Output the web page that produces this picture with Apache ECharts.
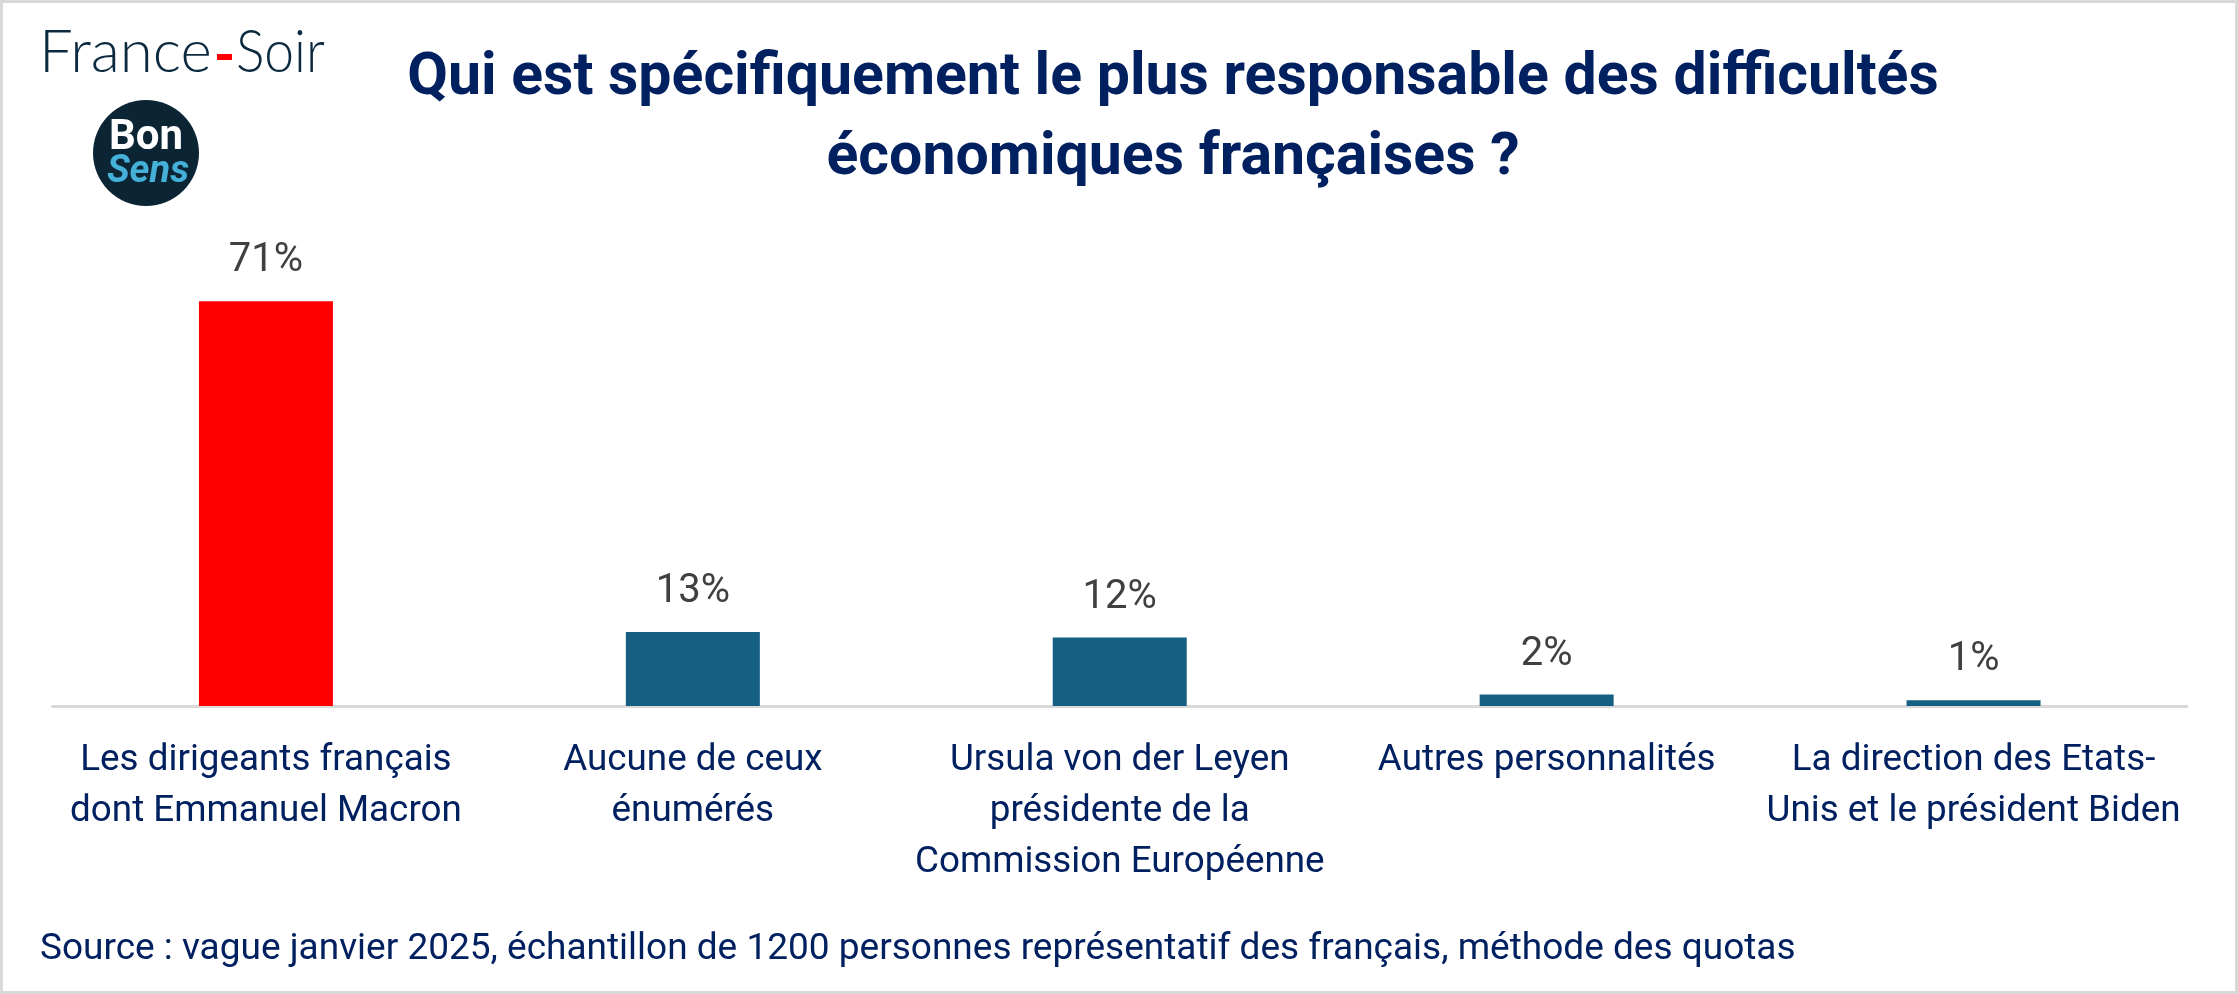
<!DOCTYPE html>
<html><head><meta charset="utf-8">
<style>html,body{margin:0;padding:0;background:#fff}#c{width:2238px;height:994px}</style>
<script src="https://cdn.jsdelivr.net/npm/echarts@6/dist/echarts.min.js"></script>
</head><body><div id="c"></div>
<script>
const categories = [
  "Les dirigeants français\ndont Emmanuel Macron",
  "Aucune de ceux\nénumérés",
  "Ursula von der Leyen\nprésidente de la\nCommission Européenne",
  "Autres personnalités",
  "La direction des Etats-\nUnis et le président Biden"
];
const values = [71, 13, 12, 2, 1];
const barColors = ["#FF0000", "#156082", "#156082", "#156082", "#156082"];
const titleText = "Qui est spécifiquement le plus responsable des difficultés\néconomiques françaises ?";
const sourceText = "Source : vague janvier 2025, échantillon de 1200 personnes représentatif des français, méthode des quotas";

const chart = echarts.init(document.getElementById('c'), null, {renderer:'canvas'});
const font = 'Roboto';
chart.setOption({
  animation:false,
  backgroundColor:'#fff',
  title:{text:titleText,left:1168,top:34,textAlign:'center',
    textStyle:{fontFamily:'Roboto',fontWeight:'bold',fontSize:59,lineHeight:80,color:'#002060'}},
  grid:{left:52.5,right:51,top:250,bottom:288,containLabel:false},
  xAxis:{type:'category',data:categories,
    axisLine:{show:true,lineStyle:{color:'#D9D9D9',width:3}},
    axisTick:{show:false},
    axisLabel:{interval:0,margin:29,fontFamily:font,fontSize:36.8,lineHeight:51,color:'#002060'}},
  yAxis:{type:'value',min:0,max:80,show:false,splitLine:{show:false}},
  series:[{type:'bar',barWidth:134,
    data:values.map((v,i)=>({value:v,itemStyle:{color:barColors[i]}})),
    label:{show:true,position:'top',distance:20,formatter:'{c}%',fontFamily:font,fontSize:40,color:'#404040'}}],
  graphic:[
    {type:'rect',shape:{x:1.5,y:1.5,width:2235,height:991},style:{fill:'none',stroke:'#D9D9D9',lineWidth:3}},
    {type:'text',x:39,y:23,style:{text:'France',font:'300 60px Lato',fill:'#0B2A3F'}},
    {type:'rect',shape:{x:217,y:54,width:15,height:6},style:{fill:'#FF0000'}},
    {type:'text',x:236,y:23,scaleX:0.89,style:{text:'Soir',font:'300 60px Lato',fill:'#0B2A3F'}},
    {type:'circle',shape:{cx:146,cy:153,r:53},style:{fill:'#0B2535'}},
    {type:'text',x:146,y:138,style:{text:'Bon',font:'bold 42px Roboto',fill:'#fff',align:'center',verticalAlign:'middle'}},
    {type:'text',x:148,y:172,style:{text:'Sens',font:'italic bold 38px Roboto',fill:'#45B0D8',align:'center',verticalAlign:'middle'}},
    {type:'text',x:40,y:950,style:{text:sourceText,font:'37px Roboto',fill:'#002060',verticalAlign:'middle'}}
  ]
});
</script></body></html>
